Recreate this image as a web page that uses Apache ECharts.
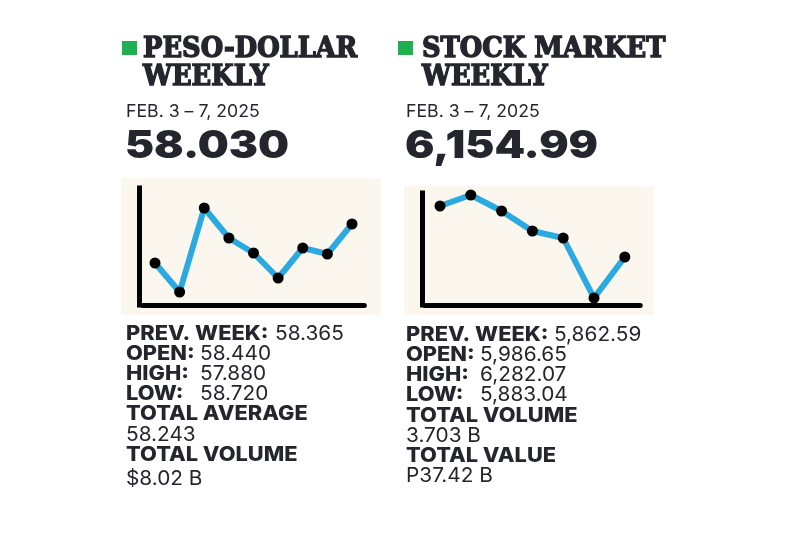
<!DOCTYPE html>
<html>
<head>
<meta charset="utf-8">
<script src="https://cdn.jsdelivr.net/npm/echarts@6/dist/echarts.min.js"></script>
<style>
html,body{margin:0;padding:0;background:#fff;}
#chart{width:800px;height:533px;}
</style>
</head>
<body>
<div id="chart"></div>
<script>
// ---- data ----
const pesoPoints = ['1','2','3','4','5','6','7','8','9'];
const pesoTrend = [42, 13, 97, 67, 52, 27, 57, 51, 81];
const stockPoints = ['1','2','3','4','5','6','7'];
const stockTrend = [99, 110, 94, 74, 67, 7, 48];

const leftTitle = ['PESO-DOLLAR', 'WEEKLY'];
const rightTitle = ['STOCK MARKET', 'WEEKLY'];
const dateText = 'FEB. 3 \u2013 7, 2025';
const pesoClose = '58.030';
const stockClose = '6,154.99';
const pesoLabels = ['PREV. WEEK:', 'OPEN:', 'HIGH:', 'LOW:', 'TOTAL AVERAGE', '', 'TOTAL VOLUME', ''];
const pesoValues = ['58.365', '58.440', '57.880', '58.720', '', '58.243', '', '$8.02 B'];
const stockLabels = ['PREV. WEEK:', 'OPEN:', 'HIGH:', 'LOW:', 'TOTAL VOLUME', '', 'TOTAL VALUE', ''];
const stockValues = ['5,862.59', '5,986.65', '6,282.07', '5,883.04', '', '3.703 B', '', 'P37.42 B'];

// ---- style / layout ----
const INK = '#25252d';
const GREEN = '#1fae50';
const CREAM = '#fcf7ee';
const BLUE = '#2aaae1';
const SANS = 'Inter, "Open Sans", sans-serif';
const SLAB = '"DejaVu Serif", serif';

const chart = echarts.init(document.getElementById('chart'), null, {renderer: 'canvas'});

function header(x, sqX, textX, title, big) {
  const els = [];
  els.push({type: 'rect', shape: {x: sqX, y: 41, width: 15, height: 14}, style: {fill: GREEN}});
  [50, 78].forEach((y, i) => {
    els.push({type: 'text', x: x, y: y, scaleX: 0.955, style: {text: title[i], fill: INK, font: 'bold 27px ' + SLAB, verticalAlign: 'middle', stroke: INK, lineWidth: 1.4}});
  });
  els.push({type: 'text', x: textX, y: 112, scaleX: 1.04, style: {text: dateText, fill: INK, font: '400 17px ' + SANS, verticalAlign: 'middle'}});
  els.push({type: 'text', x: textX - 1, y: 147, scaleX: 1.15, style: {text: big, fill: INK, font: '900 38px ' + SANS, verticalAlign: 'middle'}});
  return els;
}

function stats(x, labels, values, ys, valueX) {
  const els = [];
  labels.forEach((lab, i) => {
    if (lab) {
      els.push({type: 'text', x: x, y: ys[i], scaleX: 1.09,
        style: {text: lab, fill: INK, font: '800 20px ' + SANS, verticalAlign: 'middle'}});
    }
    if (values[i]) {
      els.push({type: 'text', x: lab ? valueX[i] : x, y: ys[i], scaleX: 1.04,
        style: {text: values[i], fill: INK, font: '400 20px ' + SANS, verticalAlign: 'middle'}});
    }
  });
  return els;
}

const graphics = [
  {type: 'rect', z: -10, shape: {x: 121, y: 178, width: 260, height: 137}, style: {fill: CREAM}},
  {type: 'rect', z: -10, shape: {x: 404, y: 186, width: 250, height: 129}, style: {fill: CREAM}},
  ...header(143, 122, 126, leftTitle, pesoClose),
  ...header(422, 398, 406, rightTitle, stockClose),
  ...stats(126, pesoLabels, pesoValues, [334, 354, 374, 394, 414, 434.5, 454.5, 479], [275, 200, 200, 200]),
  ...stats(406, stockLabels, stockValues, [335, 355, 375, 395, 416, 436, 456, 476], [554, 480, 480, 480])
];

const axisCommon = {
  axisTick: {show: false},
  axisLabel: {show: false},
  splitLine: {show: false}
};

chart.setOption({
  animation: false,
  backgroundColor: '#ffffff',
  grid: [
    {left: 142.7, right: 435.7, top: 188, bottom: 228},
    {left: 424.6, right: 159.8, top: 193, bottom: 228}
  ],
  xAxis: [
    Object.assign({type: 'category', gridIndex: 0, data: pesoPoints, boundaryGap: true,
      axisLine: {lineStyle: {color: '#000', width: 5}}}, axisCommon),
    Object.assign({type: 'category', gridIndex: 1, data: stockPoints, boundaryGap: true,
      axisLine: {lineStyle: {color: '#000', width: 5}}}, axisCommon)
  ],
  yAxis: [
    Object.assign({type: 'value', gridIndex: 0, min: 0, max: 117, offset: 3,
      axisLine: {show: true, lineStyle: {color: '#000', width: 5, cap: 'square'}}}, axisCommon),
    Object.assign({type: 'value', gridIndex: 1, min: 0, max: 112, offset: 2,
      axisLine: {show: true, lineStyle: {color: '#000', width: 5, cap: 'square'}}}, axisCommon)
  ],
  series: [
    {type: 'line', xAxisIndex: 0, yAxisIndex: 0, data: pesoTrend, symbol: 'circle', symbolSize: 11,
      lineStyle: {color: BLUE, width: 6}, itemStyle: {color: '#000'}},
    {type: 'line', xAxisIndex: 1, yAxisIndex: 1, data: stockTrend, symbol: 'circle', symbolSize: 11,
      lineStyle: {color: BLUE, width: 6}, itemStyle: {color: '#000'}}
  ],
  graphic: graphics
});
</script>
</body>
</html>
